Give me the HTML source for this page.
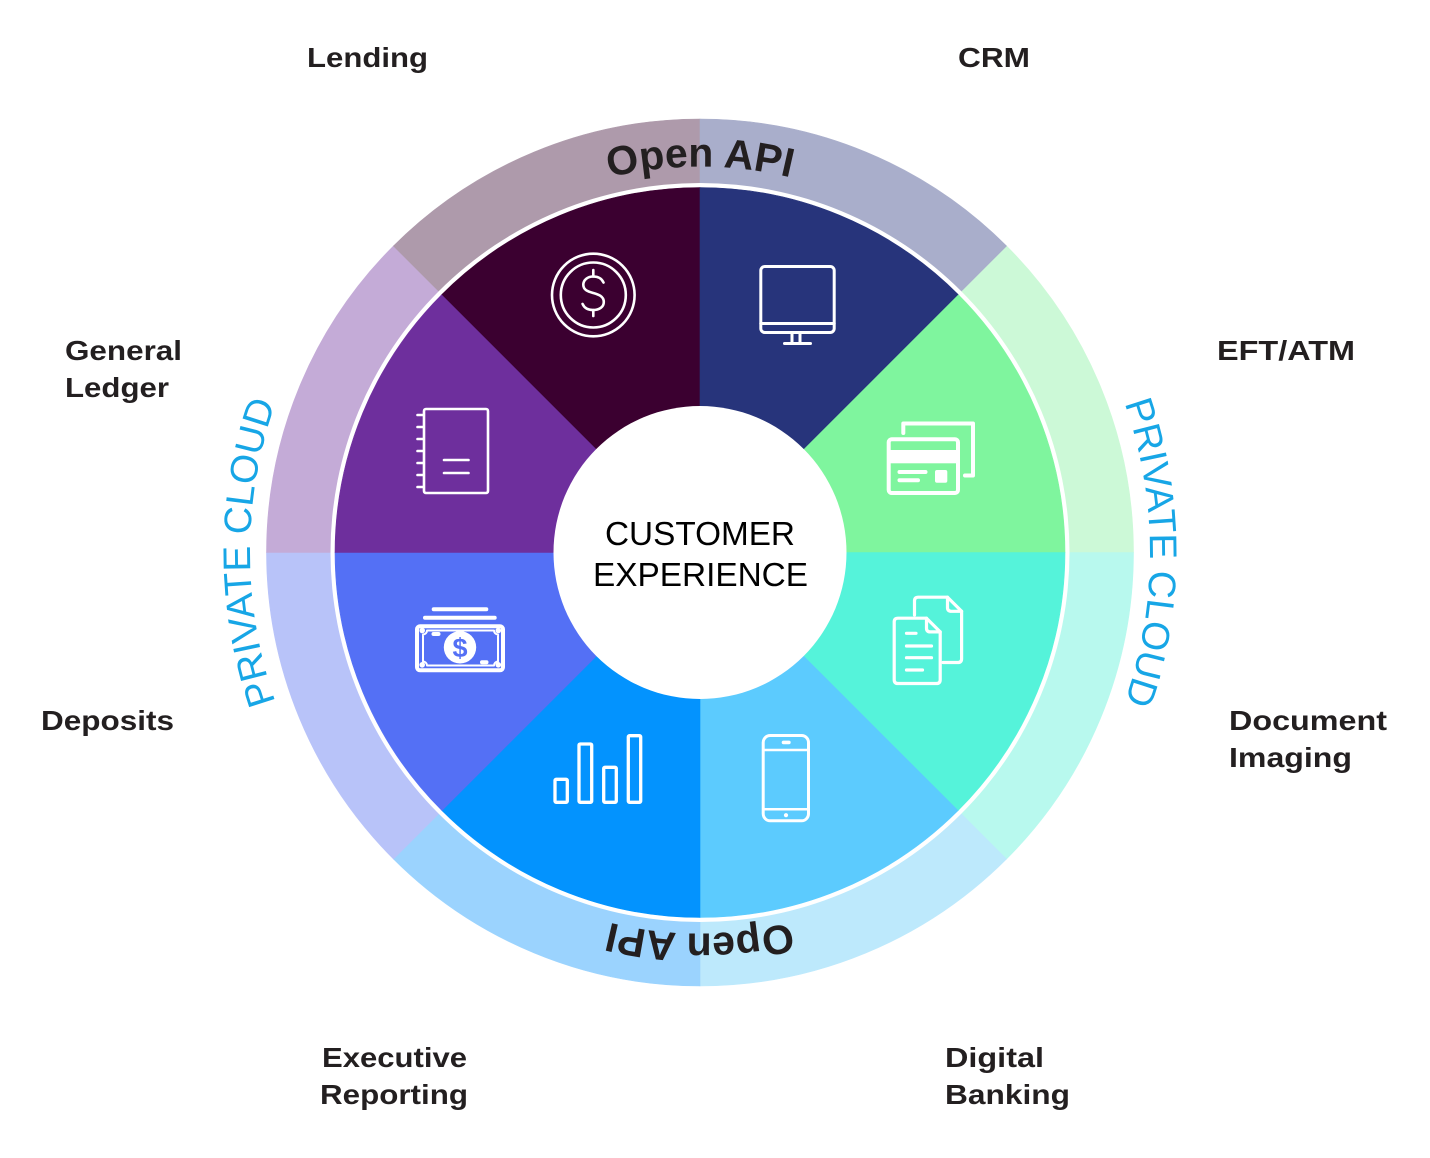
<!DOCTYPE html>
<html>
<head>
<meta charset="utf-8">
<style>
  html, body { margin:0; padding:0; background:#ffffff; }
  body { width:1430px; height:1158px; overflow:hidden; }
  svg { display:block; }
  .lbl { font-family:"Liberation Sans", sans-serif; font-weight:bold; font-size:28px; fill:#231f20; }
  .api { font-family:"Liberation Sans", sans-serif; font-weight:bold; font-size:41px; fill:#231f20; }
  .pc { font-family:"Liberation Sans", sans-serif; font-weight:normal; font-size:38.5px; fill:#17a6e6; }
  .ctr { font-family:"Liberation Sans", sans-serif; font-size:33px; fill:#000; }
  .ic { fill:none; stroke:#fff; stroke-linecap:round; stroke-linejoin:round; }
</style>
</head>
<body>
<svg width="1430" height="1158" viewBox="0 0 1430 1158" xmlns="http://www.w3.org/2000/svg">
  <defs>
    <path id="apiTop" d="M 314 552.5 A 386 386 0 0 1 1086 552.5"/>
    <path id="apiBot" d="M 1081 552.5 A 381 381 0 0 1 319 552.5"/>
    <path id="pcRight" d="M 700 102.5 A 450 450 0 0 1 700 1002.5"/>
    <path id="pcLeft" d="M 700 1002.5 A 450 450 0 0 1 700 102.5"/>
  </defs>

  <!-- Outer ring wedges (R=433.5) -->
  <g stroke-width="0.6">
    <path d="M700 552.5 L1006.53 245.97 A433.5 433.5 0 0 1 1133.5 552.5 Z" fill="#ccf9d7" stroke="#ccf9d7"/>
    <path d="M700 552.5 L1133.5 552.5 A433.5 433.5 0 0 1 1006.53 859.03 Z" fill="#b8f9ee" stroke="#b8f9ee"/>
    <path d="M700 552.5 L1006.53 859.03 A433.5 433.5 0 0 1 700 986 Z" fill="#bde9fc" stroke="#bde9fc"/>
    <path d="M700 552.5 L700 986 A433.5 433.5 0 0 1 393.47 859.03 Z" fill="#9bd3fe" stroke="#9bd3fe"/>
    <path d="M700 552.5 L393.47 859.03 A433.5 433.5 0 0 1 266.5 552.5 Z" fill="#b8c3f9" stroke="#b8c3f9"/>
    <path d="M700 552.5 L266.5 552.5 A433.5 433.5 0 0 1 393.47 245.97 Z" fill="#c4abd7" stroke="#c4abd7"/>
    <path d="M700 552.5 L393.47 245.97 A433.5 433.5 0 0 1 700 119 Z" fill="#ae9aab" stroke="#ae9aab"/>
    <path d="M700 552.5 L700 119 A433.5 433.5 0 0 1 1006.53 245.97 Z" fill="#a9aecb" stroke="#a9aecb"/>
  </g>

  <!-- white separator -->
  <circle cx="700" cy="552.5" r="369.5" fill="#ffffff"/>

  <!-- Inner wedges (r=365) -->
  <g stroke-width="0.6">
    <path d="M700 552.5 L958.09 294.41 A365 365 0 0 1 1065 552.5 Z" fill="#7ff59e" stroke="#7ff59e"/>
    <path d="M700 552.5 L1065 552.5 A365 365 0 0 1 958.09 810.59 Z" fill="#55f3da" stroke="#55f3da"/>
    <path d="M700 552.5 L958.09 810.59 A365 365 0 0 1 700 917.5 Z" fill="#5ccbfe" stroke="#5ccbfe"/>
    <path d="M700 552.5 L700 917.5 A365 365 0 0 1 441.91 810.59 Z" fill="#0393fe" stroke="#0393fe"/>
    <path d="M700 552.5 L441.91 810.59 A365 365 0 0 1 335 552.5 Z" fill="#5470f5" stroke="#5470f5"/>
    <path d="M700 552.5 L335 552.5 A365 365 0 0 1 441.91 294.41 Z" fill="#6e2f9d" stroke="#6e2f9d"/>
    <path d="M700 552.5 L441.91 294.41 A365 365 0 0 1 700 187.5 Z" fill="#3b0030" stroke="#3b0030"/>
    <path d="M700 552.5 L700 187.5 A365 365 0 0 1 958.09 294.41 Z" fill="#27347b" stroke="#27347b"/>
  </g>

  <!-- center circle -->
  <circle cx="700" cy="552.5" r="146.5" fill="#ffffff"/>
  <text class="ctr" x="605" y="545" textLength="190" lengthAdjust="spacingAndGlyphs">CUSTOMER</text>
  <text class="ctr" x="593" y="586" textLength="215" lengthAdjust="spacingAndGlyphs">EXPERIENCE</text>

  <!-- Curved texts -->
  <text class="api"><textPath href="#apiTop" startOffset="50%" text-anchor="middle">Open API</textPath></text>
  <text class="api"><textPath href="#apiBot" startOffset="50%" text-anchor="middle">Open API</textPath></text>
  <text class="pc"><textPath href="#pcRight" startOffset="50%" text-anchor="middle">PRIVATE CLOUD</textPath></text>
  <text class="pc"><textPath href="#pcLeft" startOffset="50%" text-anchor="middle">PRIVATE CLOUD</textPath></text>

  <!-- Icon: coin (Lending) -->
  <g class="ic" stroke-width="2.6">
    <circle cx="593.3" cy="295" r="41.3"/>
    <circle cx="593.3" cy="295" r="32.5"/>
    <path d="M603.5 282.5 C601.5 278, 597.5 276.5, 593.3 276.5 C587.5 276.5, 583.3 280, 583.3 284.8 C583.3 290.3, 588.5 291.6, 593.3 293 C598.3 294.4, 603.8 296.2, 603.8 302 C603.8 307.2, 599 310, 593.3 310 C588 310, 584.2 307.8, 582.6 304"/>
    <path d="M593.3 270 V276.5 M593.3 310 V316"/>
  </g>

  <!-- Icon: monitor (CRM) -->
  <g class="ic" stroke-width="3">
    <rect x="760.8" y="266.5" width="73.4" height="66" rx="4"/>
    <path d="M760.8 323.5 H834.2"/>
    <path d="M792 333 V342 M800 333 V342"/>
    <path d="M784.5 343.5 H810.5"/>
  </g>

  <!-- Icon: cards (EFT/ATM) -->
  <g class="ic" stroke-width="4">
    <path d="M903.3 433 V423.5 H973 V475.5 H965"/>
    <rect x="888.7" y="439.3" width="69.3" height="53.7" rx="3"/>
    <path d="M899.5 472 H925.5 M899.5 480.3 H918"/>
  </g>
  <rect x="888.7" y="450" width="69.3" height="13.3" fill="#fff"/>
  <rect x="935" y="470" width="12.3" height="12.7" rx="2" fill="#fff"/>

  <!-- Icon: documents (Document Imaging) -->
  <g class="ic" stroke-width="3.2">
    <path d="M914.5 615 V601 Q914.5 597.2 918.3 597.2 H947.5 L961.6 611.3 V658.7 Q961.6 662.5 957.8 662.5 H943"/>
    <path d="M947.5 597.2 V607.5 Q947.5 611.3 951.3 611.3 H961.6"/>
    <path d="M898 618.2 H926.5 L940.2 631.9 V679.7 Q940.2 683.5 936.4 683.5 H898 Q894.2 683.5 894.2 679.7 V622 Q894.2 618.2 898 618.2 Z"/>
    <path d="M926.5 618.2 V628.1 Q926.5 631.9 930.3 631.9 H940.2"/>
    <path d="M906.5 633.3 H916 M906.5 646 H931.5 M906.5 657.7 H931.5 M906.5 670 H922.5"/>
  </g>

  <!-- Icon: phone (Digital Banking) -->
  <g class="ic" stroke-width="3">
    <rect x="763.2" y="735.5" width="45.3" height="85.3" rx="7"/>
    <path d="M763.2 750 H808.5 M763.2 809.3 H808.5" stroke-width="2.5"/>
  </g>
  <rect x="781.7" y="740.6" width="9" height="3.6" rx="1.8" fill="#fff"/>
  <circle cx="786" cy="815.2" r="2.1" fill="#fff"/>

  <!-- Icon: bar chart (Executive Reporting) -->
  <g class="ic" stroke-width="3.3">
    <rect x="555" y="779.3" width="12.3" height="23" rx="1.2"/>
    <rect x="579" y="744" width="12.7" height="58.3" rx="1.2"/>
    <rect x="603.7" y="767.3" width="12.6" height="35" rx="1.2"/>
    <rect x="628.3" y="735.7" width="12.4" height="66.6" rx="1.2"/>
  </g>

  <!-- Icon: banknote (Deposits) -->
  <g class="ic" stroke-width="4">
    <path d="M433.7 609.3 H486.3 M425 617.7 H494.7"/>
    <rect x="417" y="626.3" width="86" height="44" rx="3"/>
    <path d="M433.5 634 H438.5 M482 662.3 H486.5"/>
  </g>
  <path class="ic" stroke-width="2" d="M427 630.5 H494 A4 4 0 0 0 498 634.5 V661.5 A4 4 0 0 0 494 665.5 H427 A4 4 0 0 0 423 661.5 V634.5 A4 4 0 0 0 427 630.5 Z"/>
  <g fill="#fff">
    <circle cx="422.2" cy="630.5" r="2.8"/>
    <circle cx="498.3" cy="630.5" r="2.8"/>
    <circle cx="422.2" cy="664.8" r="2.8"/>
    <circle cx="498.3" cy="664.8" r="2.8"/>
    <circle cx="460" cy="647.3" r="16.2"/>
  </g>
  <text x="460" y="657" text-anchor="middle" font-family="Liberation Sans, sans-serif" font-weight="bold" font-size="27" fill="#5470f5">$</text>

  <!-- Icon: notebook (General Ledger) -->
  <g class="ic" stroke-width="2.6">
    <rect x="424" y="409" width="64" height="84" rx="2"/>
    <path d="M417.5 415 H423 M417.5 427 H423 M417.5 439 H423 M417.5 451 H423 M417.5 463 H423 M417.5 475 H423 M417.5 487 H423"/>
    <path d="M444 460 H468.5 M444 473 H468.5"/>
  </g>

  <!-- Outside labels -->
  <text class="lbl" x="307" y="67" textLength="121" lengthAdjust="spacingAndGlyphs">Lending</text>
  <text class="lbl" x="958" y="67" textLength="72" lengthAdjust="spacingAndGlyphs">CRM</text>
  <text class="lbl" x="65" y="360" textLength="117" lengthAdjust="spacingAndGlyphs">General</text>
  <text class="lbl" x="65" y="397" textLength="104" lengthAdjust="spacingAndGlyphs">Ledger</text>
  <text class="lbl" x="1217" y="360" textLength="138" lengthAdjust="spacingAndGlyphs">EFT/ATM</text>
  <text class="lbl" x="41" y="730" textLength="133" lengthAdjust="spacingAndGlyphs">Deposits</text>
  <text class="lbl" x="1229" y="730" textLength="158" lengthAdjust="spacingAndGlyphs">Document</text>
  <text class="lbl" x="1229" y="767" textLength="123" lengthAdjust="spacingAndGlyphs">Imaging</text>
  <text class="lbl" x="322" y="1067" textLength="145" lengthAdjust="spacingAndGlyphs">Executive</text>
  <text class="lbl" x="320" y="1104" textLength="148" lengthAdjust="spacingAndGlyphs">Reporting</text>
  <text class="lbl" x="945" y="1067" textLength="99" lengthAdjust="spacingAndGlyphs">Digital</text>
  <text class="lbl" x="945" y="1104" textLength="125" lengthAdjust="spacingAndGlyphs">Banking</text>
</svg>
</body>
</html>
